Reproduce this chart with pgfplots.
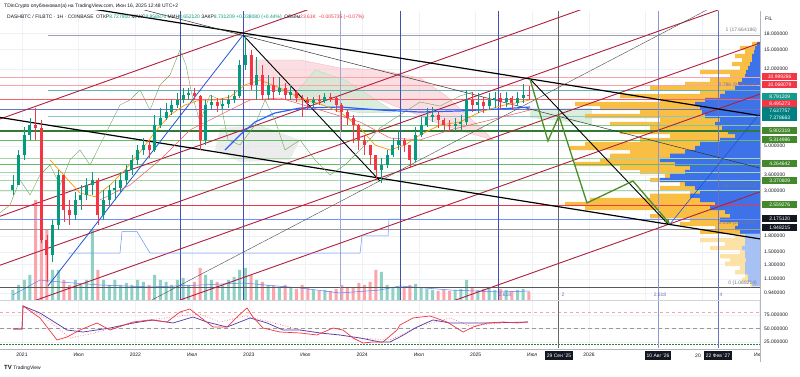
\documentclass[border=0pt]{standalone}
\usepackage{pgfplots}
\pgfplotsset{compat=1.18}
\usepackage{pgfplotstable}
\usepackage{fontspec}
\setmainfont{Liberation Sans}
\usetikzlibrary{arrows.meta}

\definecolor{upc}{HTML}{089981}
\definecolor{dnc}{HTML}{F23645}
\definecolor{redln}{HTML}{B0203C}
\definecolor{grn}{HTML}{4C8C2B}
\definecolor{vblue}{HTML}{3F51B5}
\definecolor{tvtext}{HTML}{131722}
\definecolor{tvgray}{HTML}{787B86}
\definecolor{gridc}{HTML}{EEF1F6}
\definecolor{vpy}{HTML}{F9BF45}
\definecolor{vpb}{HTML}{3D72E8}
\definecolor{vpyp}{HTML}{FCE2A4}
\definecolor{vpbp}{HTML}{A8C1F5}
\definecolor{lblue}{HTML}{2962FF}
\definecolor{boxgrn}{HTML}{43882C}
\definecolor{boxteal}{HTML}{139A8A}
\definecolor{pinkc}{HTML}{F8C8D0}
\definecolor{cloudg}{HTML}{CDE8CF}
\definecolor{darkgr}{HTML}{2E7D32}
\definecolor{midgr}{HTML}{66BB6A}
\definecolor{palegr}{HTML}{A5D6A7}
\definecolor{lagg}{HTML}{6DA55A}
\definecolor{orma}{HTML}{FF9800}
\definecolor{sepc}{HTML}{B2B5BE}

\pgfplotstableread{
x o h l c v
2020.92 3.03 3.60 2.87 3.21 100
2020.97 3.21 4.78 3.21 4.52 150
2021.02 4.52 6.21 4.27 5.67 200
2021.07 5.67 6.88 5.36 6.35 250
2021.27 1.45 2.16 1.34 2.04 300
2021.32 2.04 3.81 1.93 3.60 300
2021.47 2.28 2.96 2.16 2.71 200
2021.52 2.71 3.21 2.42 2.87 150
2021.57 2.87 3.48 2.71 3.21 200
2021.62 3.21 3.72 2.87 3.40 700
2021.72 2.28 3.03 2.16 2.71 200
2021.77 2.71 3.21 2.56 3.03 150
2021.82 3.03 3.40 2.71 3.10 200
2021.87 3.10 3.72 2.96 3.40 150
2021.92 3.40 4.03 3.21 3.81 170
2021.97 3.81 4.52 3.60 4.27 150
2022.02 4.27 5.06 4.03 4.78 200
2022.07 4.78 5.48 4.52 5.06 180
2022.17 4.78 7.12 4.67 6.35 250
2022.22 6.35 7.70 6.14 6.88 200
2022.27 6.88 8.16 6.72 7.36 180
2022.32 7.36 8.44 7.12 7.97 150
2022.37 7.97 9.13 7.70 8.44 200
2022.42 8.44 9.67 8.16 8.93 220
2022.47 8.93 9.67 8.44 9.13 150
2022.62 5.36 8.44 5.06 7.97 250
2022.67 7.97 8.93 7.53 8.25 200
2022.77 7.88 8.63 7.53 8.07 150
2022.82 8.07 8.93 7.70 8.44 200
2022.87 8.44 9.45 8.16 8.83 230
2022.92 8.83 13.29 8.63 12.56 300
2022.97 12.56 17.66 11.87 14.07 320
2023.07 10.01 13.75 8.44 11.21 200
2023.17 8.93 11.21 8.44 10.01 150
2023.27 9.24 10.96 8.93 9.67 130
2023.37 8.93 10.01 8.44 9.24 120
2023.57 8.16 8.73 7.79 8.44 100
2023.67 8.34 9.13 8.16 8.73 100
2024.17 3.81 4.37 3.29 4.03 280
2024.22 4.03 4.78 3.90 4.52 150
2024.27 4.52 5.48 4.42 5.06 120
2024.32 5.06 6.00 4.78 5.36 130
2024.47 4.27 6.21 4.17 5.67 160
2024.52 5.67 6.96 5.54 6.35 120
2024.57 6.35 7.70 6.21 6.96 110
2024.62 6.96 7.79 6.57 7.12 100
2024.82 6.28 6.88 5.93 6.42 100
2024.87 6.42 7.12 6.00 6.57 110
2024.92 6.57 9.45 6.35 8.44 200
2025.02 7.97 9.13 7.28 8.25 100
2025.12 7.88 9.13 7.53 8.44 120
2025.17 8.44 9.24 7.70 8.63 100
2025.27 8.25 9.24 7.79 8.63 100
2025.37 8.16 9.24 7.88 8.63 100
2025.42 8.63 10.12 8.16 8.93 110
}\upT
\pgfplotstableread{
x o h l c v
2021.12 6.35 7.70 5.36 6.14 1000
2021.17 6.14 6.72 1.66 1.72 600
2021.22 1.72 1.82 1.07 1.45 700
2021.37 3.60 3.60 2.11 2.42 200
2021.42 2.42 2.71 2.04 2.28 150
2021.67 3.40 3.48 2.04 2.28 300
2022.12 5.06 5.36 4.37 4.78 150
2022.52 9.13 9.67 8.44 8.83 180
2022.57 8.83 8.93 4.78 5.36 320
2022.72 8.25 8.63 7.36 7.88 180
2023.02 14.07 14.90 9.45 10.01 250
2023.12 11.21 12.56 8.44 8.93 180
2023.22 10.01 10.96 8.44 9.24 140
2023.32 9.67 10.24 8.44 8.93 150
2023.42 9.24 9.45 8.25 8.63 110
2023.47 8.63 8.93 6.96 8.44 150
2023.52 8.44 8.73 7.53 8.16 120
2023.62 8.44 8.93 7.97 8.34 90
2023.72 8.73 9.13 8.25 8.63 90
2023.77 8.63 8.83 7.36 7.97 110
2023.82 7.97 8.16 6.00 7.36 150
2023.87 7.36 7.53 6.35 6.88 130
2023.92 6.88 7.12 5.18 6.35 120
2023.97 6.35 6.42 4.78 5.36 170
2024.02 5.36 5.67 4.52 5.06 150
2024.07 5.06 5.06 4.03 4.52 180
2024.12 4.52 4.52 3.40 3.81 300
2024.37 5.36 5.48 4.67 5.06 120
2024.42 5.06 5.06 3.90 4.27 150
2024.67 7.12 7.36 6.14 6.72 90
2024.72 6.72 6.88 6.00 6.35 100
2024.77 6.35 6.72 5.87 6.28 90
2024.97 8.44 9.24 7.36 7.97 130
2025.07 8.25 8.73 7.28 7.88 110
2025.22 8.63 9.13 7.53 8.25 110
2025.32 8.63 8.83 7.53 8.16 90
2025.47 8.93 9.90 8.44 8.79 80
}\dnT
\pgfplotstableread{
p tot up
15.95 8 3
15.24 20 5
14.56 15 6
13.91 25 8
13.29 18 8
12.70 28 10
12.14 20 12
11.60 60 14
11.08 30 15
10.59 50 18
10.12 75 22
9.67 110 25
9.24 60 35
8.83 140 40
8.44 100 55
8.07 185 65
7.70 160 60
7.36 120 58
7.04 175 55
6.72 100 40
6.42 150 45
6.14 110 38
5.87 140 32
5.61 90 25
5.36 120 40
5.12 175 60
4.89 190 65
4.67 130 75
4.47 150 90
4.27 160 100
4.08 185 85
3.90 140 70
3.72 120 75
3.56 95 90
3.40 110 100
3.25 80 75
3.10 100 65
2.96 70 60
2.84 110 70
2.71 170 60
2.59 195 45
2.47 175 50
2.37 100 35
2.25 110 30
2.16 70 40
2.06 80 22
1.97 45 25
1.89 60 20
}\vpT
\pgfplotstableread{
p tot up
1.80 25 15
1.72 60 15
1.64 35 15
1.57 50 18
1.50 20 15
1.43 40 15
1.37 30 14
1.31 35 15
1.25 20 15
1.19 25 15
1.14 15 12
1.09 18 12
1.04 10 8
}\vpP

\tikzset{
  rlab/.style={anchor=west, text=white, inner xsep=1.3pt, inner ysep=0pt, minimum height=7pt, minimum width=35pt, align=left, font=\fontsize{5}{5}\selectfont},
  dbox/.style={fill=tvtext, text=white, inner xsep=2pt, inner ysep=0pt, minimum height=9pt, font=\fontsize{5}{5}\selectfont},
}

\begin{document}
\begin{tikzpicture}[font=\fontsize{5}{6}\selectfont]
\useasboundingbox (0pt,0pt) rectangle (800pt,377pt);
\fill[white] (0pt,0pt) rectangle (800pt,377pt);

% ---- grid and clouds
\begin{axis}[at={(0pt,77pt)}, anchor=south west, scale only axis,
  width=760pt, height=289pt, xmin=2020.806, xmax=2027.508,
  ymode=log, ymin=0.869, ymax=23.2,
  axis line style={draw=none}, tick style={draw=none},
  xtick={2021,2021.5,2022,2022.5,2023,2023.5,2024,2024.5,2025,2025.5,2026,2026.5,2027},
  ytick={0.94,1.1,1.3,1.5,1.8,3,3.6,5,12,15,18},
  xticklabels={}, yticklabels={}, grid=major, major grid style={draw=gridc, line width=0.5pt}]
\addplot[fill=pinkc, fill opacity=0.6, draw=dnc!40, line width=0.3pt] coordinates {(2023.055,13.29) (2023.452,13.29) (2023.804,12.14) (2024.157,11.87) (2024.510,10.83) (2024.730,8.93) (2024.951,6.88) (2025.154,5.36) (2024.907,5.87) (2024.686,6.42) (2024.421,7.36) (2024.157,8.44) (2023.848,8.73) (2023.452,8.83) (2023.187,9.67) (2023.055,11.21) (2023.055,13.29)};
\addplot[fill=cloudg, fill opacity=0.7, draw=midgr!50, line width=0.3pt] coordinates {(2023.363,8.44) (2023.584,11.87) (2023.848,10.59) (2024.289,7.36) (2023.981,7.28) (2023.628,7.97) (2023.363,8.44)};
\addplot[fill=cloudg, fill opacity=0.7, draw=none] coordinates {(2025.480,7.70) (2026.026,7.70) (2026.026,6.42) (2025.480,6.88) (2025.480,7.70)};
\addplot[fill=black!10, fill opacity=0.7, draw=none] coordinates {(2022.746,6.14) (2023.099,6.35) (2023.452,5.36) (2023.363,4.27) (2022.922,4.17) (2022.702,4.78) (2022.746,6.14)};
\end{axis}

% ---- visible range volume profile
\begin{axis}[at={(0pt,77pt)}, anchor=south west, scale only axis, width=760pt, height=289pt,
  xmin=0, xmax=760, x dir=reverse, ymode=log, ymin=0.869, ymax=23.2, hide axis]
\addplot[xbar, bar width=4.3pt, bar shift=0pt, fill=vpy, draw=none] table[x=tot,y=p]{\vpT};
\addplot[xbar, bar width=4.3pt, bar shift=0pt, fill=vpb, draw=none] table[x=up,y=p]{\vpT};
\addplot[xbar, bar width=4.3pt, bar shift=0pt, fill=vpyp, draw=none] table[x=tot,y=p]{\vpP};
\addplot[xbar, bar width=4.3pt, bar shift=0pt, fill=vpbp, draw=none] table[x=up,y=p]{\vpP};
\end{axis}

% ---- volume bars
\begin{axis}[at={(0pt,77pt)}, anchor=south west, scale only axis, width=760pt, height=100pt,
  xmin=2020.806, xmax=2027.508, ymin=0, ymax=1000, hide axis]
\addplot[ybar, bar width=3pt, bar shift=0pt, fill=upc!45, draw=none] table[x=x,y=v]{\upT};
\addplot[ybar, bar width=3pt, bar shift=0pt, fill=dnc!45, draw=none] table[x=x,y=v]{\dnT};
\addplot[lblue!80, line width=0.5pt] coordinates {(2020.92,50) (2021.159,200) (2021.335,180) (2021.688,150) (2022.129,130) (2022.570,150) (2022.949,170) (2023.452,120) (2023.804,70) (2024.157,100) (2024.333,140) (2024.774,100) (2025.215,80) (2025.480,90)};
\end{axis}

% ---- price pane: lines and candles
\begin{axis}[at={(0pt,77pt)}, anchor=south west, scale only axis,
  width=760pt, height=289pt, xmin=2020.806, xmax=2027.508,
  ymode=log, ymin=0.869, ymax=23.2,
  axis line style={draw=none}, tick style={draw=none},
  xtick=\empty, clip mode=individual,
  ytick={0.94,1.1,1.3,1.5,1.8,3,3.6,5,12,15,18},
  yticklabels={0.940000,1.100000,1.300000,1.500000,1.800000,3.000000,3.600000,5.000000,12.000000,15.000000,18.000000},
  yticklabel pos=right, yticklabel shift=4pt,
  yticklabel style={anchor=west, inner sep=0pt, text=tvtext, font=\fontsize{5}{6}\selectfont}]
\addplot[tvgray!70, line width=0.4pt] coordinates {(2021.229,17.66) (2027.508,17.66)};
\addplot[dnc!45, line width=0.5pt] coordinates {(2020.806,10.96) (2027.508,10.96)};
\addplot[dnc!45, line width=0.5pt] coordinates {(2020.806,10.01) (2027.508,10.01)};
\addplot[teal!60, line width=0.5pt] coordinates {(2021.229,9.45) (2027.508,9.45)};
\addplot[dnc!80, line width=0.5pt] coordinates {(2020.806,8.53) (2027.508,8.53)};
\addplot[vblue!80, line width=0.5pt] coordinates {(2020.806,7.62) (2027.508,7.62)};
\addplot[teal!45, line width=0.4pt] coordinates {(2021.229,7.04) (2027.508,7.04)};
\addplot[midgr!80, line width=0.5pt] coordinates {(2021.229,6.35) (2027.508,6.35)};
\addplot[darkgr, line width=1.1pt] coordinates {(2020.806,5.93) (2027.508,5.93)};
\addplot[midgr, line width=0.5pt] coordinates {(2020.806,5.36) (2027.508,5.36)};
\addplot[palegr, line width=0.4pt] coordinates {(2020.806,4.34) (2027.508,4.34)};
\addplot[midgr, line width=0.5pt] coordinates {(2020.806,4.08) (2027.508,4.08)};
\addplot[palegr, line width=0.4pt] coordinates {(2020.806,3.72) (2027.508,3.72)};
\addplot[palegr, line width=0.5pt] coordinates {(2020.806,3.40) (2027.508,3.40)};
\addplot[palegr, line width=0.4pt] coordinates {(2020.806,3.03) (2027.508,3.03)};
\addplot[dnc, line width=1.3pt] coordinates {(2020.806,2.54) (2027.508,2.54)};
\addplot[lblue!70, line width=0.5pt] coordinates {(2020.806,2.18) (2027.508,2.18)};
\addplot[black!40, line width=0.5pt] coordinates {(2020.806,1.95) (2027.508,1.95)};
\addplot[black!65, line width=0.6pt] coordinates {(2020.806,1.00) (2027.508,1.00)};
\addplot[vblue, line width=0.5pt] coordinates {(2022.393,0.869) (2022.393,23.2)};
\addplot[vblue, line width=0.5pt] coordinates {(2022.949,0.869) (2022.949,23.2)};
\addplot[vblue!50, line width=0.5pt] coordinates {(2023.804,0.869) (2023.804,23.2)};
\addplot[vblue, line width=0.6pt] coordinates {(2024.333,0.869) (2024.333,23.2)};
\addplot[vblue, line width=0.6pt] coordinates {(2025.198,0.869) (2025.198,23.2)};
\addplot[black!60, line width=0.6pt] coordinates {(2025.730,0.869) (2025.730,23.2)};
\addplot[vblue!60, line width=0.5pt] coordinates {(2026.609,0.869) (2026.609,23.2)};
\addplot[vblue!80, line width=0.5pt] coordinates {(2027.138,0.869) (2027.138,23.2)};
\addplot[redln, line width=0.9pt] coordinates {(2020.806,6.80) (2027.508,146)};
\addplot[redln, line width=0.9pt] coordinates {(2020.806,2.25) (2027.508,48.6)};
\addplot[redln, line width=0.9pt] coordinates {(2020.806,1.29) (2027.508,27.8)};
\addplot[redln, line width=0.9pt] coordinates {(2020.806,0.750) (2027.508,16.13)};
\addplot[redln, line width=0.9pt] coordinates {(2020.806,0.420) (2027.508,9.03)};
\addplot[redln, line width=0.9pt] coordinates {(2020.806,0.138) (2027.508,2.97)};
\addplot[black, line width=1.2pt] coordinates {(2021.159,26.1) (2027.508,7.06)};
\addplot[black!80, line width=0.5pt] coordinates {(2021.688,26.7) (2027.508,3.89)};
\addplot[black, line width=1.2pt] coordinates {(2020.806,6.92) (2027.508,1.74)};
\addplot[black, line width=0.9pt] coordinates {(2022.949,17.66) (2024.157,3.36)};
\addplot[black!70, line width=0.4pt] coordinates {(2022.129,0.860) (2027.332,28.6)};
\addplot[lblue!85!black, line width=0.8pt] coordinates {(2021.229,1.02) (2022.949,17.66)};
\addplot[lblue!85!black, line width=0.6pt] coordinates {(2026.714,2.06) (2027.508,7.28)};
\addplot[lagg, line width=0.4pt] coordinates {(2020.806,2.34) (2020.894,2.56) (2020.982,3.40) (2021.071,2.87) (2021.159,3.60) (2021.247,4.03) (2021.335,3.21) (2021.423,4.27) (2021.511,4.78) (2021.600,4.03) (2021.688,5.06) (2021.776,6.35) (2021.864,7.97) (2021.952,8.44) (2022.041,9.45) (2022.129,7.53) (2022.217,10.01) (2022.305,11.21) (2022.393,14.90) (2022.446,12.56) (2022.499,8.93) (2022.570,6.57) (2022.658,8.93) (2022.746,8.44) (2022.817,5.36) (2022.922,5.06) (2023.055,6.35) (2023.143,8.44) (2023.231,6.72) (2023.319,4.78) (2023.452,5.36) (2023.584,4.27) (2023.716,3.60) (2023.848,4.03) (2023.981,4.78) (2024.157,6.14) (2024.333,7.12) (2024.510,8.25) (2024.686,7.88) (2024.862,8.83) (2024.977,9.24)};
\addplot[lblue!70, line width=0.5pt] coordinates {(2021.406,1.48) (2021.864,1.48) (2021.882,1.89) (2022.014,1.89) (2022.129,1.48) (2023.981,1.48) (2023.998,1.80) (2024.228,1.80) (2024.236,2.18) (2024.333,2.18)};
\addplot[lblue, line width=1.2pt] coordinates {(2022.790,4.78) (2022.922,5.67) (2023.055,6.57) (2023.231,7.28) (2023.452,7.70) (2023.804,7.79) (2024.157,7.53) (2024.510,7.36) (2024.862,7.45) (2025.215,7.62) (2025.480,7.79)};
\addplot[dnc!85, line width=0.5pt] coordinates {(2021.688,2.71) (2021.952,3.21) (2022.217,4.27) (2022.481,6.00) (2022.746,7.12) (2023.011,8.44) (2023.275,8.63) (2023.628,7.53) (2023.981,6.57) (2024.245,5.48) (2024.510,5.36) (2024.774,6.00) (2025.127,6.72) (2025.480,7.53)};
\addplot[orma, line width=0.7pt] coordinates {(2021.247,4.27) (2021.511,2.93) (2021.644,2.81) (2021.776,3.21) (2021.908,3.81) (2022.041,4.67) (2022.173,5.87) (2022.305,7.12) (2022.437,7.97) (2022.570,8.44) (2022.702,8.44) (2022.834,8.73) (2022.966,10.01) (2023.099,10.59) (2023.275,9.67) (2023.452,8.63) (2023.628,8.07) (2023.804,7.36) (2023.981,6.14) (2024.113,5.06) (2024.245,4.78) (2024.377,5.06) (2024.510,5.67) (2024.686,6.35) (2024.862,6.57) (2025.039,7.36) (2025.215,7.88) (2025.480,8.44)};
\addplot[draw=none, error bars/.cd, y dir=plus, y explicit, error mark=none, error bar style={draw=upc, line width=0.6pt}] table[x=x, y=l, y error expr=\thisrow{h}-\thisrow{l}]{\upT};
\addplot[draw=none, error bars/.cd, y dir=plus, y explicit, error mark=none, error bar style={draw=upc, line width=3pt}] table[x=x, y=o, y error expr=\thisrow{c}-\thisrow{o}]{\upT};
\addplot[draw=none, error bars/.cd, y dir=plus, y explicit, error mark=none, error bar style={draw=dnc, line width=0.6pt}] table[x=x, y=l, y error expr=\thisrow{h}-\thisrow{l}]{\dnT};
\addplot[draw=none, error bars/.cd, y dir=plus, y explicit, error mark=none, error bar style={draw=dnc, line width=3pt}] table[x=x, y=c, y error expr=\thisrow{o}-\thisrow{c}]{\dnT};
\addplot[black, line width=0.9pt] coordinates {(2025.480,10.71) (2026.697,2.06)};
\addplot[grn, line width=1.3pt, -{Stealth[length=6pt,width=5pt]}] coordinates {(2025.480,10.71) (2025.638,5.30) (2025.735,7.04) (2025.982,2.62) (2026.388,3.36) (2026.714,2.06)};
\end{axis}

% ---- RSI pane
\begin{axis}[at={(0pt,29pt)}, anchor=south west, scale only axis, width=760pt, height=47pt,
  xmin=2020.806, xmax=2027.508, ymin=13.5, ymax=100.5, clip mode=individual,
  axis line style={draw=none}, tick style={draw=none},
  xtick={2021,2021.5,2022,2022.5,2023,2023.5,2024,2024.5,2025,2025.5,2026,2027.5},
  xticklabels={2021,Июл,2022,Июл,2023,Июл,2024,Июл,2025,Июл,2026,Июл},
  xticklabel shift=5pt,
  xticklabel style={anchor=north, inner sep=0pt, text=tvtext, font=\fontsize{5}{6}\selectfont},
  ytick={25,50,75}, yticklabels={25.000000,50.000000,75.000000},
  yticklabel pos=right, yticklabel shift=4pt,
  yticklabel style={anchor=west, inner sep=0pt, text=tvtext, font=\fontsize{5}{6}\selectfont},
  grid=major, major grid style={draw=gridc, line width=0.5pt}]
\addplot[dnc!45, dashed, line width=0.5pt] coordinates {(2020.806,80) (2027.508,80)};
\addplot[black!40, dash pattern=on 4pt off 3pt, line width=1pt] coordinates {(2020.806,50) (2027.508,50)};
\addplot[darkgr, dash pattern=on 1.5pt off 1.5pt, line width=0.7pt] coordinates {(2020.806,20) (2027.508,20)};
\addplot[black!60, line width=0.6pt] coordinates {(2025.730,13.5) (2025.730,100.5)};
\addplot[vblue!60, line width=0.5pt] coordinates {(2026.609,13.5) (2026.609,100.5)};
\addplot[vblue!80, line width=0.5pt] coordinates {(2027.138,13.5) (2027.138,100.5)};
\addplot[dnc, dotted, line width=0.6pt] coordinates {(2021.009,91.3) (2021.203,69.1) (2021.423,32.0) (2021.600,39.4) (2021.864,54.2) (2022.129,65.4) (2022.393,72.8) (2022.570,76.5) (2022.746,61.6) (2022.966,72.8) (2023.187,61.6) (2023.452,46.8) (2023.716,39.4) (2023.981,32.0) (2024.245,28.3) (2024.510,54.2) (2024.774,69.1) (2024.951,54.2) (2025.215,59.8) (2025.462,61.6)};
\addplot[vblue!70!violet, line width=0.7pt] coordinates {(2020.921,48.7) (2021.000,48.7) (2021.009,91.3) (2021.159,78.3) (2021.397,46.8) (2021.538,43.1) (2021.776,50.5) (2021.979,59.8) (2022.155,65.4) (2022.332,59.8) (2022.508,70.9) (2022.631,61.6) (2022.808,52.3) (2023.011,69.1) (2023.161,59.8) (2023.302,46.8) (2023.452,46.8) (2023.628,41.3) (2023.804,37.6) (2023.981,32.0) (2024.157,24.6) (2024.245,24.6) (2024.333,33.9) (2024.483,52.3) (2024.624,65.4) (2024.774,59.8) (2024.924,59.8) (2025.101,59.8) (2025.462,61.6)};
\addplot[dnc, line width=0.7pt] coordinates {(2020.921,48.7) (2021.000,48.7) (2021.009,91.3) (2021.159,69.1) (2021.309,28.3) (2021.397,33.9) (2021.511,46.8) (2021.661,59.8) (2021.776,46.8) (2021.979,61.6) (2022.129,65.4) (2022.279,61.6) (2022.393,80.2) (2022.481,85.7) (2022.570,70.9) (2022.684,52.3) (2022.808,52.3) (2022.896,70.9) (2022.984,87.6) (2023.037,70.9) (2023.125,50.5) (2023.275,43.1) (2023.452,41.3) (2023.601,37.6) (2023.743,50.5) (2023.831,46.8) (2023.919,32.0) (2024.007,22.8) (2024.095,24.6) (2024.183,24.6) (2024.307,46.8) (2024.333,56.1) (2024.448,69.1) (2024.598,72.8) (2024.748,61.6) (2024.889,43.1) (2024.977,52.3) (2025.101,59.8) (2025.242,61.6) (2025.365,59.8) (2025.462,61.6)};
\end{axis}

% ---- frame
\draw[sepc!60, line width=0.5pt] (0pt,76.5pt) -- (760.5pt,76.5pt);
\draw[sepc, line width=0.6pt] (0pt,28pt) -- (760.5pt,28pt);
\fill[white] (761pt,0pt) rectangle (800pt,26pt);
\draw[sepc, line width=0.6pt] (760.5pt,15pt) -- (760.5pt,366pt);

% ---- header
\node[anchor=west, text=tvtext, inner sep=0pt] at (4pt,371pt) {TDinCrypto опубликовал(а) на TradingView.com, Июн 16, 2025 12:48 UTC+2};
\node[anchor=west, text=tvtext, inner sep=0pt] at (7pt,360pt) {DASHBTC / FILBTC · 1Н · COINBASE\enspace ОТКР\textcolor{upc}{8.727910} МАКС\textcolor{upc}{8.958870} МИН\textcolor{upc}{8.652120} ЗАКР\textcolor{upc}{8.731209} \textcolor{upc}{+0.038080 (+0.44\%)}\enspace Объём\textcolor{dnc}{23.61K}\enspace\textcolor{dnc}{−0.005735 (−0.07\%)}};
\node[anchor=west, text=tvtext, inner sep=0pt] at (765pt,358pt) {FIL};

% ---- fib labels and time-zone labels
\node[anchor=east, text=tvgray, inner sep=0pt] at (757pt,347pt) {1 (17.664186)};
\node[anchor=east, text=tvgray, inner sep=0pt] at (757pt,292pt) {0.786 (9.691054)};
\node[anchor=east, text=tvgray, inner sep=0pt] at (757pt,191pt) {0.382 (3.155272)};
\node[anchor=east, text=tvgray, inner sep=0pt] at (757pt,154pt) {0.236 (2.134725)};
\node[anchor=east, text=tvgray, inner sep=0pt] at (757pt,94pt) {0 (1.068214)};
\node[text=vblue!80, inner sep=0pt] at (505pt,82pt) {2.618};
\node[text=vblue!80, inner sep=0pt] at (563pt,82pt) {2};
\node[text=vblue!80, inner sep=0pt] at (660pt,82pt) {2.618};
\node[text=vblue!80, inner sep=0pt] at (721pt,82pt) {4};

% ---- price labels on the right scale
\node[rlab, fill=dnc] at (762pt,300.3pt) {10.999286};
\node[rlab, fill=dnc] at (762pt,292.5pt) {10.068079};
\node[rlab, fill=boxteal] at (762pt,280.6pt) {8.791209};
\node[rlab, fill=dnc] at (762pt,273.7pt) {8.495273};
\node[rlab, fill=teal] at (762pt,266pt) {7.637757};
\node[rlab, fill=teal] at (762pt,259pt) {7.378663};
\node[rlab, fill=boxgrn] at (762pt,246pt) {5.902319};
\node[rlab, fill=boxgrn] at (762pt,237pt) {5.314986};
\node[rlab, fill=boxgrn] at (762pt,213pt) {4.264642};
\node[rlab, fill=boxgrn] at (762pt,196pt) {3.370809};
\node[rlab, fill=boxgrn] at (762pt,172pt) {2.559276};
\node[rlab, fill=tvtext] at (762pt,158pt) {2.175120};
\node[rlab, fill=tvtext] at (762pt,149pt) {1.948215};

% ---- date boxes and the cut-off year label
\node[anchor=east, text=tvtext, inner sep=0pt] at (701pt,21.5pt) {20};
\node[dbox] at (559pt,21.5pt) {29 Сен '25};
\node[dbox] at (658pt,21.5pt) {10 Авг '26};
\node[dbox] at (718pt,21.5pt) {22 Фев '27};

% ---- logo
\node[anchor=west, text=tvtext, inner sep=0pt] at (4pt,9pt) {{\bfseries\fontsize{6}{6}\selectfont TV} TradingView};
\end{tikzpicture}
\end{document}
